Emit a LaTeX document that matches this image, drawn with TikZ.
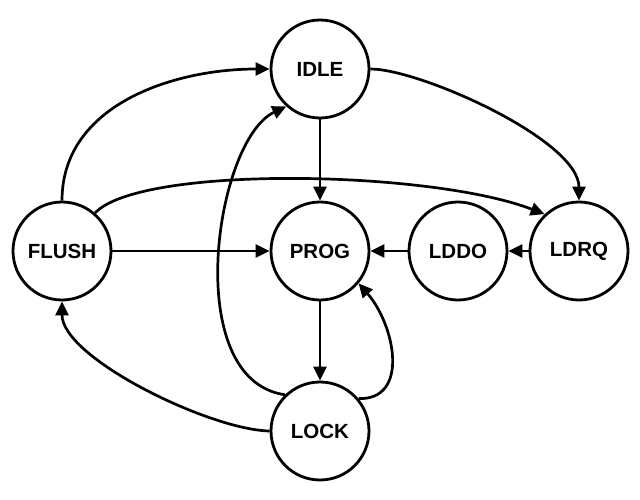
\documentclass[tikz,border=0pt]{standalone}
\usepackage{fontspec}
\setmainfont{Liberation Sans}
\usetikzlibrary{arrows.meta}
\begin{document}
\begin{tikzpicture}[x=1pt,y=1pt,
  state/.style={circle,draw,line width=2.8pt,minimum size=98pt,inner sep=0pt,font=\fontsize{20.5}{24}\selectfont\bfseries},
  edge/.style={line width=2.7pt,-{Triangle[length=14pt,width=13pt]}}]
\useasboundingbox (0,0) rectangle (640,-500);
\fill[white] (0,0) rectangle (640,-500);
\node[state] (IDLE) at (320,-69) {IDLE};
\node[state] (PROG) at (320,-251) {PROG};
\node[state] (FLUSH) at (62,-251) {FLUSH};
\node[state] (LDDO) at (458,-251) {LDDO};
\node[state] (LDRQ) at (579,-251) {LDRQ};
\node[state] (LOCK) at (320,-431) {LOCK};
% straight edges
\draw[edge] (IDLE.south) -- (PROG.north);
\draw[edge] (PROG.south) -- (LOCK.north);
\draw[edge] (FLUSH.east) -- (PROG.west);
\draw[edge] (LDDO.west) -- (PROG.east);
\draw[edge] (LDRQ.west) -- (LDDO.east);
% curved edges
\draw[edge] (FLUSH.north) to[out=90,in=180] (IDLE.west);
\draw[edge] (IDLE.east) .. controls (420,-69) and (579,-140) .. (LDRQ.north);
\draw[edge] (FLUSH.49) .. controls (140,-165) and (430,-170) .. (LDRQ.133);
\draw[edge] (LOCK.134) .. controls (180,-380) and (215,-140) .. (IDLE.228);
\draw[edge] (LOCK.40) .. controls (410,-400) and (395,-325) .. (PROG.-40);
\draw[edge] (LOCK.west) .. controls (210,-430) and (62,-358) .. (FLUSH.south);
\end{tikzpicture}
\end{document}
